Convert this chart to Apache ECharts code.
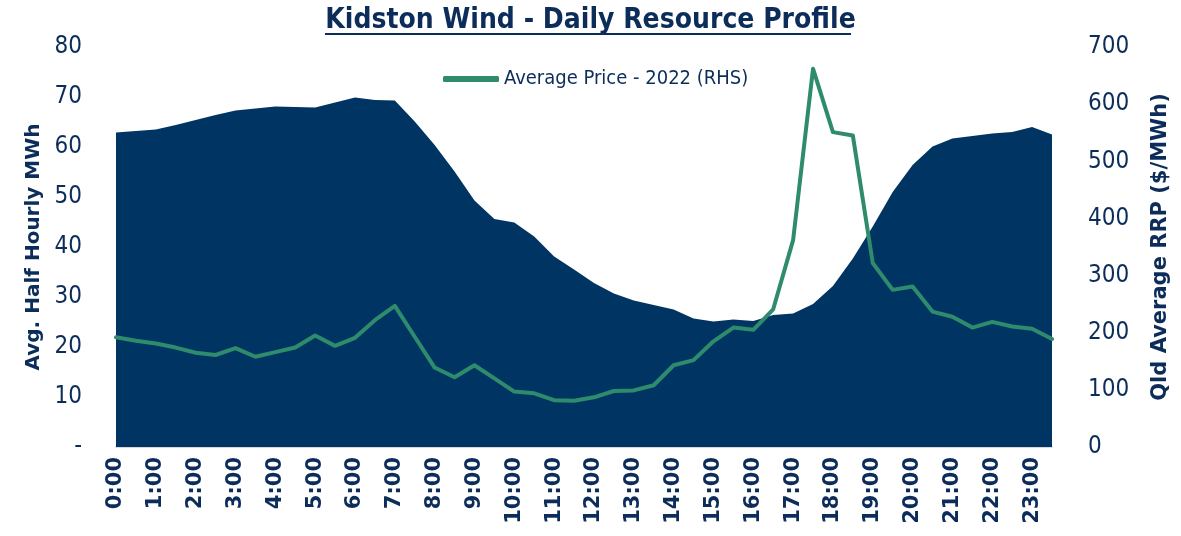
<!DOCTYPE html>
<html>
<head>
<meta charset="utf-8">
<script src="https://cdn.jsdelivr.net/npm/echarts@6/dist/echarts.min.js"></script>
<style>html,body{margin:0;padding:0;background:#fff}#c{width:1181px;height:536px}</style>
</head>
<body>
<div id="c"></div>
<script>
const categories = ["0:00","0:30","1:00","1:30","2:00","2:30","3:00","3:30","4:00","4:30","5:00","5:30","6:00","6:30","7:00","7:30","8:00","8:30","9:00","9:30","10:00","10:30","11:00","11:30","12:00","12:30","13:00","13:30","14:00","14:30","15:00","15:30","16:00","16:30","17:00","17:30","18:00","18:30","19:00","19:30","20:00","20:30","21:00","21:30","22:00","22:30","23:00","23:30"];
const generationMWh = [62.9,63.2,63.5,64.4,65.4,66.4,67.3,67.7,68.1,68.0,67.9,68.9,69.9,69.4,69.3,65.1,60.4,55.1,49.3,45.6,44.9,42.1,38.1,35.5,32.8,30.7,29.3,28.4,27.5,25.7,25.1,25.5,25.2,26.4,26.7,28.6,32.2,37.7,44.1,51.0,56.4,60.1,61.7,62.2,62.7,63.0,64.0,62.5];
const avgPrice2022 = [192,186,181,174,165,161,173,158,166,174,195,177,191,222,247,193,139,122,143,120,97,94,82,81,87,98,99,108,143,152,185,209,205,241,362,662,551,545,322,275,281,237,228,209,219,211,207,189];
const titleText = "Kidston Wind - Daily Resource Profile";
const leftAxisName = "Avg. Half Hourly MWh";
const rightAxisName = "Qld Average RRP ($/MWh)";
const lineName = "Average Price - 2022 (RHS)";

const navy = "#003462";
const textNavy = "#0c2d5a";
const green = "#2e8b6c";
const lightFont = "'Liberation Sans Narrow','DejaVu Sans Condensed',Roboto,sans-serif";

const chart = echarts.init(document.getElementById('c'));
chart.setOption({
  animation: false,
  backgroundColor: '#fff',
  title: {
    text: titleText,
    left: 'center',
    top: 2,
    textStyle: {color: textNavy, fontSize: 28, fontWeight: 'bold', fontFamily: "'DejaVu Sans Condensed','Liberation Sans Narrow',Roboto,sans-serif"}
  },
  graphic: [{
    type: 'line',
    shape: {x1: 325, y1: 34, x2: 851, y2: 34},
    style: {stroke: textNavy, lineWidth: 2}
  }],
  legend: {
    data: [lineName],
    top: 64,
    left: 438,
    icon: 'roundRect',
    itemWidth: 56,
    itemHeight: 6,
    itemGap: 4,
    textStyle: {color: textNavy, fontSize: 20, fontFamily: lightFont}
  },
  grid: {left: 116, right: 129, top: 47, bottom: 89, containLabel: false},
  xAxis: {
    type: 'category',
    data: categories,
    boundaryGap: false,
    axisLine: {lineStyle: {color: '#d9d9d9', width: 2}},
    axisTick: {show: false},
    axisLabel: {
      interval: 1,
      rotate: 90,
      margin: 10,
      color: textNavy,
      fontSize: 21,
      fontWeight: 900,
      fontFamily: "'DejaVu Sans',sans-serif"
    },
    splitLine: {show: false}
  },
  yAxis: [{
    type: 'value',
    min: 0, max: 80, interval: 10,
    name: leftAxisName,
    nameLocation: 'middle',
    nameGap: 72,
    nameTextStyle: {color: textNavy, fontSize: 20, fontWeight: 'bold', fontFamily: "'DejaVu Sans',sans-serif"},
    axisLine: {show: false},
    axisTick: {show: false},
    splitLine: {show: false},
    axisLabel: {
      margin: 34,
      color: textNavy,
      fontSize: 24,
      fontFamily: lightFont,
      formatter: v => v === 0 ? '-' : String(v)
    }
  }, {
    type: 'value',
    min: 0, max: 700, interval: 100,
    name: rightAxisName,
    nameLocation: 'middle',
    nameGap: 98,
    nameRotate: 90,
    nameTextStyle: {color: textNavy, fontSize: 21, fontWeight: 'bold', fontFamily: "'DejaVu Sans',sans-serif"},
    axisLine: {show: false},
    axisTick: {show: false},
    splitLine: {show: false},
    axisLabel: {
      margin: 36,
      color: textNavy,
      fontSize: 24,
      fontFamily: lightFont
    }
  }],
  series: [{
    name: 'Generation',
    type: 'line',
    yAxisIndex: 0,
    data: generationMWh,
    symbol: 'none',
    lineStyle: {width: 0},
    itemStyle: {color: navy},
    areaStyle: {color: navy, opacity: 1},
    z: 1
  }, {
    name: lineName,
    type: 'line',
    yAxisIndex: 1,
    data: avgPrice2022,
    symbol: 'none',
    lineStyle: {width: 4, color: green, join: 'round', cap: 'round'},
    itemStyle: {color: green},
    z: 3
  }]
});
</script>
</body>
</html>
